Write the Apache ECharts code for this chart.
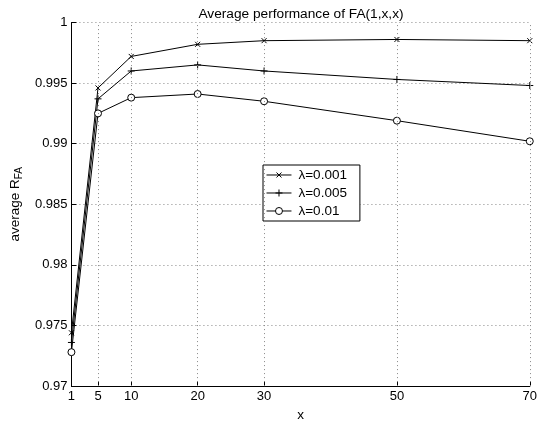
<!DOCTYPE html>
<html><head><meta charset="utf-8">
<script src="https://cdn.jsdelivr.net/npm/echarts@6/dist/echarts.min.js"></script>
<style>html,body{margin:0;padding:0;background:#fff}#c{width:540px;height:427px}</style>
</head><body><div id="c"></div>
<script>
var xValues = [1, 5, 10, 20, 30, 50, 70];
var xTicks = [1, 5, 10, 20, 30, 50, 70];
var seriesNames = ['λ=0.001', 'λ=0.005', 'λ=0.01'];
var lam001 = [0.9744, 0.9946, 0.9972, 0.9982, 0.9985, 0.9986, 0.9985];
var lam005 = [0.9736, 0.9937, 0.9960, 0.9965, 0.9960, 0.9953, 0.9948];
var lam01  = [0.9728, 0.9925, 0.9938, 0.9941, 0.9935, 0.9919, 0.9902];
var yMin = 0.97, yMax = 1, yStep = 0.005;

var FONT = '"Liberation Sans", Arial, Helvetica, sans-serif';
var xSym = 'path://M0,0L10,10M10,0L0,10';
var plusSym = 'path://M5,0L5,10M0,5L10,5';
var circSym = 'path://M0,5A5,5 0 1 1 10,5A5,5 0 1 1 0,5Z';
// legend icons: line + marker, drawn in a 25x8 box (corner dots fix the bounding box)
var legendIcons = [
  'path://M0,4L25,4M10,1.5L15,6.5M15,1.5L10,6.5M0,0L0,0.01M25,8L25,8.01',
  'path://M0,4L25,4M12.5,0.5L12.5,7.5M9,4L16,4M0,0L0,0.01M25,8L25,8.01',
  'path://M0,4L9,4M16,4L25,4M9,4A3.5,3.5 0 1 1 16,4A3.5,3.5 0 1 1 9,4M0,0L0,0.01M25,8L25,8.01'
];

function pairs(v){ return xValues.map(function(x,i){ return [x, v[i]]; }); }
function mkSeries(name, data, sym, size, fill){
  return {
    name: name, type: 'line', data: pairs(data),
    symbol: sym, symbolSize: size, showSymbol: true,
    lineStyle: {color: '#000', width: 1},
    itemStyle: {color: fill, borderColor: '#000', borderWidth: 1},
    animation: false, z: 3
  };
}
var series = [
  mkSeries(seriesNames[0], lam001, xSym, 5, '#000'),
  mkSeries(seriesNames[1], lam005, plusSym, 7, '#000'),
  mkSeries(seriesNames[2], lam01, circSym, 7, '#fff')
];
series.push({
  type: 'line', data: [], silent: true, animation: false,
  markLine: {
    symbol: 'none', silent: true, label: {show: false}, animation: false,
    lineStyle: {color: '#888', type: [1, 3], width: 1},
    data: xTicks.filter(function(t){ return t !== xTicks[0]; }).map(function(t){ return {xAxis: t}; })
  }
});

var chart = echarts.init(document.getElementById('c'), null, {renderer: 'canvas'});
chart.setOption({
  backgroundColor: '#fff',
  animation: false,
  textStyle: {fontFamily: FONT},
  title: {
    text: 'Average performance of FA(1,x,x)',
    left: 296, top: 2, textAlign: 'center',
    textStyle: {fontFamily: FONT, fontSize: 13.7, fontWeight: 'normal', color: '#000'}
  },
  grid: {left: 61, right: 9, top: 22.5, bottom: 36, containLabel: false},
  legend: {
    data: seriesNames.map(function(n, i){
      return {name: n, icon: legendIcons[i],
        itemStyle: {color: i === 2 ? '#fff' : '#000', borderColor: '#000', borderWidth: 1}};
    }),
    orient: 'vertical', left: 263, top: 165,
    backgroundColor: '#fff', borderColor: '#000', borderWidth: 1,
    padding: [2, 13, 2, 3], itemGap: 2, itemWidth: 25, itemHeight: 8,
    textStyle: {fontFamily: FONT, fontSize: 13.5, lineHeight: 16, color: '#000', padding: [0, 0, 0, 2]}
  },
  xAxis: {
    type: 'value', min: xTicks[0], max: xTicks[xTicks.length - 1],
    name: 'x', nameLocation: 'middle', nameGap: 19,
    nameTextStyle: {fontFamily: FONT, fontSize: 13.5, color: '#000'},
    axisLine: {show: true, onZero: false, lineStyle: {color: '#000', width: 1}},
    axisTick: {show: true, inside: true, length: 5, customValues: xTicks, lineStyle: {color: '#000'}},
    axisLabel: {customValues: xTicks, fontFamily: FONT, fontSize: 13, color: '#000', margin: 4},
    splitLine: {show: false}
  },
  yAxis: {
    type: 'value', min: yMin, max: yMax, interval: yStep,
    name: '{a|average R}{b|FA}', nameLocation: 'middle', nameGap: 42, nameRotate: 90,
    nameTextStyle: {
      fontFamily: FONT, fontSize: 13.5, color: '#000',
      rich: {
        a: {fontFamily: FONT, fontSize: 13.5, color: '#000'},
        b: {fontFamily: FONT, fontSize: 10, color: '#000', padding: [8, 0, 0, 0]}
      }
    },
    axisLine: {show: true, lineStyle: {color: '#000', width: 1}},
    axisTick: {show: true, inside: true, length: 5, lineStyle: {color: '#000'}},
    axisLabel: {fontFamily: FONT, fontSize: 13, color: '#000', margin: 4},
    splitLine: {show: true, lineStyle: {color: '#888', type: [1, 3], width: 1}}
  },
  series: series
});
</script>
</body></html>
